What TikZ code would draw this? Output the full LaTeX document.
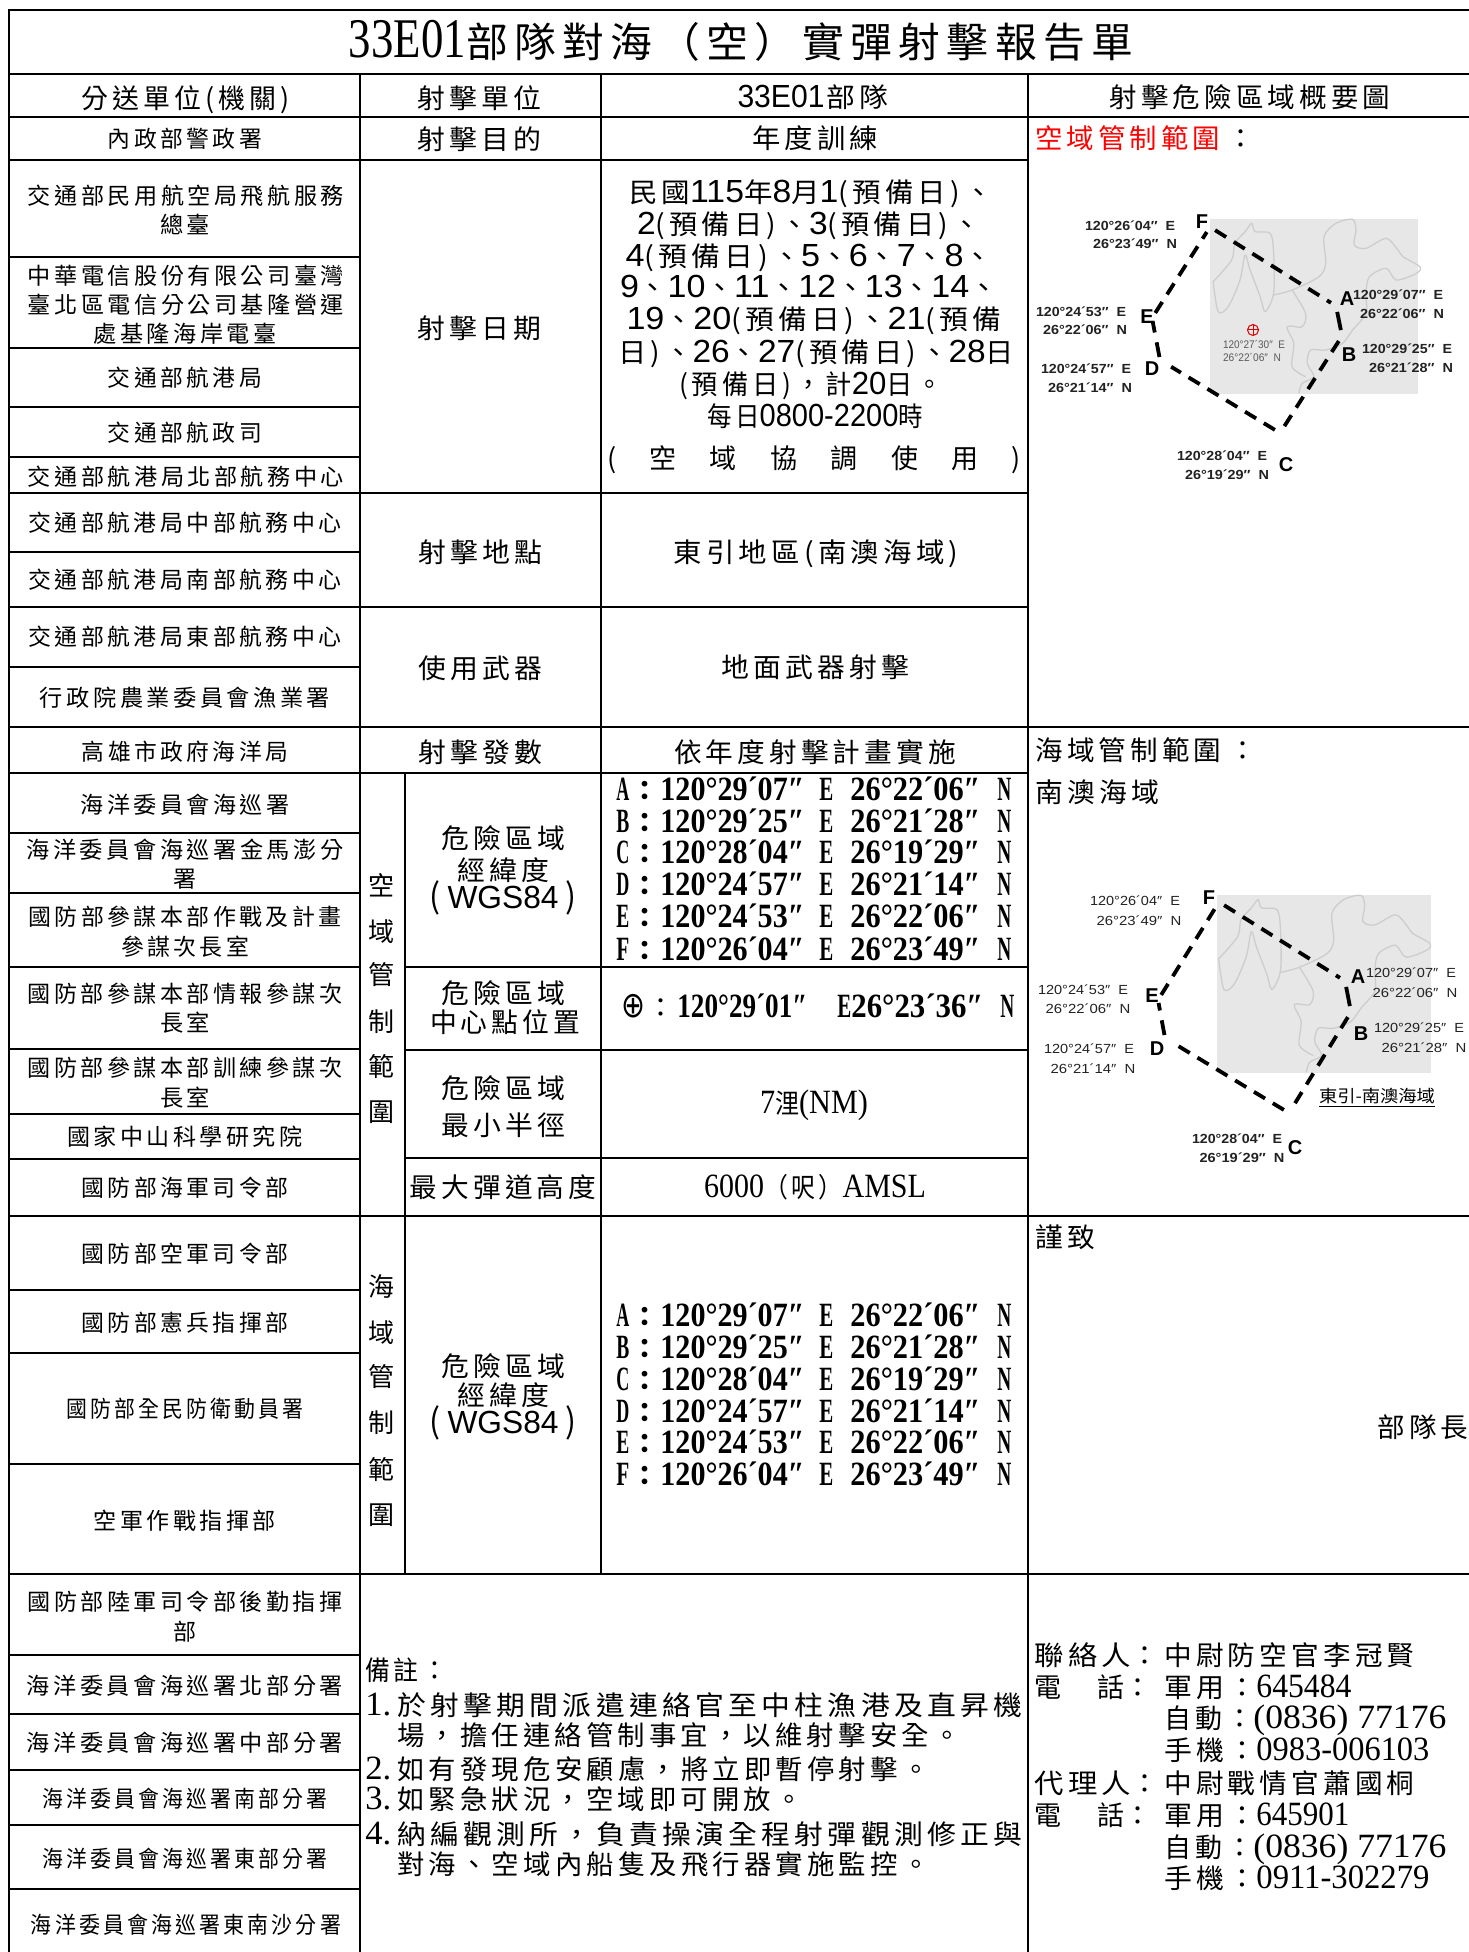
\documentclass[tikz,border=0pt]{standalone}
\usepackage{fontspec}
\usepackage{graphicx}
\setmainfont{Noto Sans CJK TC}
\newfontfamily\cj[LetterSpace=15]{Noto Sans CJK TC}
\newfontfamily\cjn{Noto Sans CJK TC}
\newfontfamily\lsans{Liberation Sans}
\newfontfamily\lserif{Liberation Serif}
\newfontfamily\dejav{DejaVu Sans}
\newdimen\pxu \pxu=.5pt
\newcommand\fw[2]{\resizebox{#1\pxu}{\height}{#2}}
\newcommand\lse{\lserif\fontsize{17}{19}\selectfont}
\newcommand\sa[1]{{\lsans\fontsize{16}{18}\selectfont #1}}
\newcommand\se[1]{{\lse #1}}
\newcommand\coordln[3]{\hbox{\lse\bfseries\fw{13}{#1}\kern2\pxu{\cjn\fontsize{13.5}{16}\selectfont ：}\kern2\pxu\fw{144}{#2}\kern15\pxu\fw{14}{E}\kern17\pxu\fw{130}{#3}\kern17\pxu\fw{14}{N}}}
\newcommand\wgs{\hbox{\fw{11}{\cjn\fontsize{17}{19}\selectfont(}\kern7\pxu\fw{111}{\lsans\fontsize{16}{18}\selectfont WGS84}\kern7\pxu\fw{11}{\cjn\fontsize{17}{19}\selectfont)}}}
\newcommand\telrow{\hbox{電\kern36\pxu 話\kern0\pxu{\cjn ：}}}
\definecolor{mapgrey}{HTML}{E7E7E7}
\definecolor{coast}{HTML}{CDCDCD}
\definecolor{mtext}{HTML}{222222}
\tikzset{
  every node/.style={inner sep=0pt},
  rule/.style={line width=1.1pt,line cap=rect},
  lc/.style={anchor=base,yshift=-4.4pt,font=\cj\fontsize{11.5}{13}\selectfont},
  mc/.style={anchor=base,yshift=-5.1pt,font=\cj\fontsize{13.5}{16}\selectfont},
  mw/.style={mc,anchor=base west},
  vc/.style={anchor=base,yshift=-4.9pt,font=\cjn\fontsize{13}{15}\selectfont},
  ml/.style={anchor=center,text=mtext,font=\lsans\bfseries\fontsize{6.6}{8}\selectfont},
  mr/.style={anchor=center,text=mtext,font=\lsans\fontsize{6.6}{8}\selectfont},
  mlb/.style={anchor=center,text=black,font=\lsans\bfseries\fontsize{10}{12}\selectfont},
  mlg/.style={anchor=center,text=black!65,font=\lsans\fontsize{5.5}{7}\selectfont},
  dashpoly/.style={line width=1.9pt,dash pattern=on 6.5pt off 4.5pt,shorten >=3pt,shorten <=3pt},
  dashsolid/.style={line width=1.9pt,shorten >=3pt,shorten <=3pt},
  dashtwo/.style={line width=1.9pt,dash pattern=on 7.5pt off 5pt,shorten >=1.5pt,shorten <=1.5pt},
  coastline/.style={draw=coast,line width=.65pt,line join=round},
}
\newcommand\coastlines{
  \draw[coastline] plot[smooth] coordinates {(545,485)(600,420)(610,370)(640,335)(660,310)(670,335)(715,340)(725,400)(725,520)(700,575)(685,530)(655,450)(640,405)(625,480)(590,560)(560,575)(545,485)};
  \draw[coastline] plot[smooth] coordinates {(725,525)(780,510)(860,470)(880,430)(875,350)(910,310)(960,298)(970,330)(965,375)(1000,385)(1060,355)(1095,390)(1110,410)(1160,440)(1150,460)(1090,480)(1060,445)(1010,470)(1000,520)(1000,580)(960,630)(930,670)(880,690)(835,690)(825,730)(845,770)(810,790)(800,820)};
  \draw[coastline] plot[smooth] coordinates {(780,510)(820,580)(810,620)(765,620)(785,670)(780,740)(820,770)};
}
\begin{document}
\begin{tikzpicture}[x=.5pt,y=-.5pt]
\useasboundingbox (0,0) rectangle (1468,1952);
\fill[white] (0,0) rectangle (1468,1952);

% ---------- map 1
\fill[mapgrey] (1210,219) rectangle (1418,394);
\begin{scope}[x=.168pt,y=-.1667pt,shift={(515pt,-60pt)}]\coastlines\end{scope}
\coordinate (fa) at (1210,227);
\coordinate (aa) at (1336,306);
\coordinate (ba) at (1342,336);
\coordinate (ca) at (1280,433);
\coordinate (da) at (1160,360);
\coordinate (ea) at (1152,318);
\draw[dashpoly] (fa)--(aa);
\draw[dashsolid] (aa)--(ba);
\draw[dashpoly] (ba)--(ca);
\draw[dashpoly,shorten >=6.5pt] (ca)--(da);
\draw[dashtwo] (da)--(ea);
\draw[dashpoly] (ea)--(fa);
\node[mlb] (f1) at (1202,222) {F};
\node[mlb] (a1) at (1347,299) {A};
\node[mlb] (b1) at (1349,355) {B};
\node[mlb] (c1) at (1286,465) {C};
\node[mlb] (d1) at (1152,369) {D};
\node[mlb] (e1) at (1147,317) {E};
\node[ml] (f1x) at (1130,226) {\fw{90}{120°26´04″\ \ E}};
\node[ml] (f1y) at (1135,244) {\fw{84}{26°23´49″\ \ N}};
\node[ml] (a1x) at (1398,295) {\fw{90}{120°29´07″\ \ E}};
\node[ml] (a1y) at (1402,314) {\fw{84}{26°22´06″\ \ N}};
\node[ml] (e1x) at (1081,312) {\fw{90}{120°24´53″\ \ E}};
\node[ml] (e1y) at (1085,330) {\fw{84}{26°22´06″\ \ N}};
\node[ml] (d1x) at (1086,369) {\fw{90}{120°24´57″\ \ E}};
\node[ml] (d1y) at (1090,388) {\fw{84}{26°21´14″\ \ N}};
\node[ml] (b1x) at (1407,349) {\fw{90}{120°29´25″\ \ E}};
\node[ml] (b1y) at (1411,368) {\fw{84}{26°21´28″\ \ N}};
\node[ml] (c1x) at (1222,456) {\fw{90}{120°28´04″\ \ E}};
\node[ml] (c1y) at (1227,475) {\fw{84}{26°19´29″\ \ N}};
\coordinate (ctr) at (1253,330);
\draw[red!85!black,line width=.5pt] (ctr) circle (5.5);
\draw[red!85!black,line width=.5pt] ([xshift=-2.75pt]ctr)--([xshift=2.75pt]ctr) ([yshift=-2.75pt]ctr)--([yshift=2.75pt]ctr);
\node[mlg] (cx) at (1254,345) {\fw{62}{120°27´30″\ \ E}};
\node[mlg] (cy) at (1252,358) {\fw{58}{26°22´06″\ \ N}};

% ---------- map 2
\fill[mapgrey] (1217,895) rectangle (1431,1073);
\begin{scope}[x=.1717pt,y=-.1695pt,shift={(515.75pt,-397.2pt)}]\coastlines\end{scope}
\coordinate (fb) at (1219,902);
\coordinate (ab) at (1345,981);
\coordinate (bb) at (1351,1012);
\coordinate (cb) at (1289,1113);
\coordinate (db) at (1165,1038);
\coordinate (eb) at (1158,1000);
\draw[dashpoly] (fb)--(ab);
\draw[dashsolid] (ab)--(bb);
\draw[dashpoly] (bb)--(cb);
\draw[dashpoly,shorten >=7pt] (cb)--(db);
\draw[dashtwo] (db)--(eb);
\draw[dashpoly] (eb)--(fb);
\node[mlb] (f2) at (1209,898) {F};
\node[mlb] (a2) at (1358,977) {A};
\node[mlb] (b2) at (1361,1034) {B};
\node[mlb] (c2) at (1295,1148) {C};
\node[mlb] (d2) at (1157,1049) {D};
\node[mlb] (e2) at (1152,996) {E};
\node[mr] (f2x) at (1135,901) {\fw{90}{120°26´04″\ \ E}};
\node[mr] (f2y) at (1139,921) {\fw{85}{26°23´49″\ \ N}};
\node[mr] (a2x) at (1411,973) {\fw{90}{120°29´07″\ \ E}};
\node[mr] (a2y) at (1415,993) {\fw{85}{26°22´06″\ \ N}};
\node[mr] (e2x) at (1083,990) {\fw{90}{120°24´53″\ \ E}};
\node[mr] (e2y) at (1088,1009) {\fw{85}{26°22´06″\ \ N}};
\node[mr] (d2x) at (1089,1049) {\fw{90}{120°24´57″\ \ E}};
\node[mr] (d2y) at (1093,1069) {\fw{85}{26°21´14″\ \ N}};
\node[mr] (b2x) at (1419,1028) {\fw{90}{120°29´25″\ \ E}};
\node[mr] (b2y) at (1424,1048) {\fw{85}{26°21´28″\ \ N}};
\node[ml] (c2x) at (1237,1139) {\fw{90}{120°28´04″\ \ E}};
\node[ml] (c2y) at (1242,1158) {\fw{85}{26°19´29″\ \ N}};
\node[anchor=center,font=\cjn\fontsize{8.5}{10}\selectfont] (m2cap) at (1377,1098) {\underline{\fw{116}{東引-南澳海域}}};

% ---------- table rules
\foreach \yy in {10,74,727,1216,1574} \draw[rule] (9,\yy)--(1468,\yy);
\draw[rule] (9,117)--(1468,117);
\foreach \yy in {160,493,607,773} \draw[rule] (9,\yy)--(1028,\yy);
\foreach \yy in {257,348,407,457,552,667,833,893,967,1049,1114,1159,1290,1353,1464,1655,1714,1770,1825,1889} \draw[rule] (9,\yy)--(360,\yy);
\foreach \yy in {967,1050,1158} \draw[rule] (405,\yy)--(1028,\yy);
\draw[rule] (9,10)--(9,1952);
\draw[rule] (360,74)--(360,1952);
\draw[rule] (1028,74)--(1028,1952);
\draw[rule] (601,74)--(601,1574);
\draw[rule] (405,773)--(405,1574);

% ---------- title and header row
\node[anchor=base,yshift=-7.8pt,font=\cj\fontsize{20.5}{24}\selectfont] (title) at (741,42) {\hbox{\fw{117}{\lserif\fontsize{28}{30}\selectfont 33E01}\fw{667}{部隊對海（空）實彈射擊報告單}}};
\node[mc] (h1) at (186,98) {\fw{208}{分送單位(機關)}};
\node[mc] (h2) at (479,98) {\fw{124}{射擊單位}};
\node[mc] (h3) at (813,97) {\hbox{\fw{87}{\lsans\fontsize{16}{18}\selectfont 33E01}\kern2\pxu\fw{62}{部隊}}};
\node[mc] (h4) at (1250,97) {\fw{281}{射擊危險區域概要圖}};

% ---------- left column
\node[lc] (l01) at (185,139) {\fw{154}{內政部警政署}};
\node[lc] (l02) at (186,196) {\fw{316}{交通部民用航空局飛航服務}};
\node[lc] (l03) at (185,225) {\fw{50}{總臺}};
\node[lc] (l04) at (186,276) {\fw{316}{中華電信股份有限公司臺灣}};
\node[lc] (l05) at (186,305) {\fw{316}{臺北區電信分公司基隆營運}};
\node[lc] (l06) at (185,334) {\fw{183}{處基隆海岸電臺}};
\node[lc] (l07) at (185,378) {\fw{154}{交通部航港局}};
\node[lc] (l08) at (185,433) {\fw{154}{交通部航政司}};
\node[lc] (l09) at (186,477) {\fw{316}{交通部航港局北部航務中心}};
\node[lc] (l10) at (185,523) {\fw{313}{交通部航港局中部航務中心}};
\node[lc] (l11) at (185,580) {\fw{313}{交通部航港局南部航務中心}};
\node[lc] (l12) at (185,637) {\fw{313}{交通部航港局東部航務中心}};
\node[lc] (l13) at (185,698) {\fw{290}{行政院農業委員會漁業署}};
\node[lc] (l14) at (185,752) {\fw{206}{高雄市政府海洋局}};
\node[lc] (l15) at (185,805) {\fw{209}{海洋委員會海巡署}};
\node[lc] (l16) at (185,850) {\fw{317}{海洋委員會海巡署金馬澎分}};
\node[lc] (l17) at (185,879) {署};
\node[lc] (l18) at (185,917) {\fw{313}{國防部參謀本部作戰及計畫}};
\node[lc] (l19) at (185,947) {\fw{128}{參謀次長室}};
\node[lc] (l20) at (185,994) {\fw{315}{國防部參謀本部情報參謀次}};
\node[lc] (l21) at (185,1023) {\fw{50}{長室}};
\node[lc] (l22) at (185,1068) {\fw{315}{國防部參謀本部訓練參謀次}};
\node[lc] (l23) at (185,1098) {\fw{50}{長室}};
\node[lc] (l24) at (185,1137) {\fw{235}{國家中山科學研究院}};
\node[lc] (l25) at (185,1188) {\fw{207}{國防部海軍司令部}};
\node[lc] (l26) at (185,1254) {\fw{207}{國防部空軍司令部}};
\node[lc] (l27) at (185,1323) {\fw{207}{國防部憲兵指揮部}};
\node[lc] (l28) at (185,1409) {\fw{237}{國防部全民防衛動員署}};
\node[lc] (l29) at (185,1521) {\fw{182}{空軍作戰指揮部}};
\node[lc] (l30) at (185,1602) {\fw{315}{國防部陸軍司令部後勤指揮}};
\node[lc] (l31) at (185,1632) {部};
\node[lc] (l32) at (185,1686) {\fw{316}{海洋委員會海巡署北部分署}};
\node[lc] (l33) at (185,1743) {\fw{316}{海洋委員會海巡署中部分署}};
\node[lc] (l34) at (185,1799) {\fw{285}{海洋委員會海巡署南部分署}};
\node[lc] (l35) at (185,1859) {\fw{285}{海洋委員會海巡署東部分署}};
\node[lc] (l36) at (186,1925) {\fw{310}{海洋委員會海巡署東南沙分署}};

% ---------- second column
\node[mc] (m1) at (479,139) {\fw{124}{射擊目的}};
\node[mc] (m2) at (479,328) {\fw{124}{射擊日期}};
\node[mc] (m3) at (480,552) {\fw{124}{射擊地點}};
\node[mc] (m4) at (480,668) {\fw{124}{使用武器}};
\node[mc] (m5) at (480,752) {\fw{124}{射擊發數}};

% vertical labels
\node[vc] (v1) at (381,886) {空};
\node[vc] (v2) at (381,932) {域};
\node[vc] (v3) at (381,975) {管};
\node[vc] (v4) at (381,1022) {制};
\node[vc] (v5) at (381,1067) {範};
\node[vc] (v6) at (381,1112) {圍};
\node[vc] (w1) at (381,1287) {海};
\node[vc] (w2) at (381,1333) {域};
\node[vc] (w3) at (381,1377) {管};
\node[vc] (w4) at (381,1423) {制};
\node[vc] (w5) at (381,1470) {範};
\node[vc] (w6) at (381,1515) {圍};

% sub column
\node[mc] (s1) at (503,838) {\fw{124}{危險區域}};
\node[mc] (s2) at (503,870) {\fw{92}{經緯度}};
\node[mc] (s3) at (503,898) {\wgs};
\node[mc] (s4) at (503,993) {\fw{124}{危險區域}};
\node[mc] (s5) at (505,1022) {\fw{150}{中心點位置}};
\node[mc] (s6) at (503,1088) {\fw{124}{危險區域}};
\node[mc] (s7) at (503,1125) {\fw{124}{最小半徑}};
\node[mc] (s8) at (503,1187) {\fw{187}{最大彈道高度}};
\node[mc] (s9) at (503,1366) {\fw{124}{危險區域}};
\node[mc] (s10) at (503,1395) {\fw{92}{經緯度}};
\node[mc] (s11) at (503,1423) {\wgs};

% ---------- third column
\node[mc] (c1t) at (815,138) {\fw{126}{年度訓練}};
\node[mc] (d1t) at (811,192) {\fw{364}{民國\sa{115}年\sa{8}月\sa{1}(預備日)、}};
\node[mc] (d2t) at (809,224) {\fw{344}{\sa{2}(預備日)、\sa{3}(預備日)、}};
\node[mc] (d3t) at (809,256) {\fw{367}{\sa{4}(預備日)、\sa{5}、\sa{6}、\sa{7}、\sa{8}、}};
\node[mc] (d4t) at (809,287) {\fw{378}{\sa{9}、\sa{10}、\sa{11}、\sa{12}、\sa{13}、\sa{14}、}};
\node[mc] (d5t) at (814,319) {\fw{375}{\sa{19}、\sa{20}(預備日)、\sa{21}(預備}};
\node[mc] (d6t) at (816,352) {\fw{396}{日)、\sa{26}、\sa{27}(預備日)、\sa{28}日}};
\node[mc] (d7t) at (811,384) {\fw{264}{(預備日)，計\sa{20}日。}};
\node[mc] (d8t) at (815,416) {\fw{216}{每日\sa{0800-2200}時}};
\node[mc] (d9t) at (814,458) {\makebox[414\pxu][s]{(\hfil 空\hfil 域\hfil 協\hfil 調\hfil 使\hfil 用\hfil )}};
\node[mc] (c3t) at (816,552) {\fw{285}{東引地區(南澳海域)}};
\node[mc] (c4t) at (815,667) {\fw{188}{地面武器射擊}};
\node[mc] (c5t) at (815,752) {\fw{282}{依年度射擊計畫實施}};
\node[mw] (k1) at (616,790) {\coordln{A}{120°29´07″}{26°22´06″}};
\node[mw] (k2) at (616,822) {\coordln{B}{120°29´25″}{26°21´28″}};
\node[mw] (k3) at (616,853) {\coordln{C}{120°28´04″}{26°19´29″}};
\node[mw] (k4) at (616,885) {\coordln{D}{120°24´57″}{26°21´14″}};
\node[mw] (k5) at (616,917) {\coordln{E}{120°24´53″}{26°22´06″}};
\node[mw] (k6) at (616,950) {\coordln{F}{120°26´04″}{26°23´49″}};
\node[mw] (q1) at (621,1007) {\hbox{{\dejav\fontsize{18}{20}\selectfont\fw{24}{⊕}}\kern2\pxu{\cjn ：}\kern3\pxu\lse\bfseries\fw{130}{120°29´01″}\kern30\pxu\fw{14}{E}\fw{132}{26°23´36″}\kern17\pxu\fw{14}{N}}};
\node[mc] (q2) at (814,1103) {\fw{108}{\se{7}浬\se{(NM)}}};
\node[mc] (q3) at (815,1187) {\fw{222}{\se{6000}（呎）\se{AMSL}}};
\node[mw] (n1) at (616,1316) {\coordln{A}{120°29´07″}{26°22´06″}};
\node[mw] (n2) at (616,1348) {\coordln{B}{120°29´25″}{26°21´28″}};
\node[mw] (n3) at (616,1380) {\coordln{C}{120°28´04″}{26°19´29″}};
\node[mw] (n4) at (616,1412) {\coordln{D}{120°24´57″}{26°21´14″}};
\node[mw] (n5) at (616,1443) {\coordln{E}{120°24´53″}{26°22´06″}};
\node[mw] (n6) at (616,1475) {\coordln{F}{120°26´04″}{26°23´49″}};

% ---------- right column
\node[mw,text=red] (r1) at (1035,138) {\fw{185}{空域管制範圍}};
\node[mc] (r1c) at (1241,138) {\cjn ：};
\node[mw] (r2) at (1035,750) {\fw{186}{海域管制範圍}};
\node[mc] (r2c) at (1243,750) {\cjn ：};
\node[mw] (r3) at (1035,792) {\fw{124}{南澳海域}};
\node[mw] (r4) at (1035,1237) {\fw{60}{謹致}};
\node[mw] (r5) at (1377,1427) {\fw{91}{部隊長}};

% ---------- notes
\node[mw] (t0) at (365,1670) {\fw{82}{備註：}};
\node[mw] (t1a) at (365,1705) {\fw{26}{\se{1.}}};
\node[mw] (t1) at (397,1705) {\fw{625}{於射擊期間派遣連絡官至中柱漁港及直昇機}};
\node[mw] (t2) at (397,1735) {\fw{563}{場，擔任連絡管制事宜，以維射擊安全。}};
\node[mw] (t3a) at (365,1769) {\fw{26}{\se{2.}}};
\node[mw] (t3) at (397,1769) {\fw{532}{如有發現危安顧慮，將立即暫停射擊。}};
\node[mw] (t4a) at (365,1799) {\fw{26}{\se{3.}}};
\node[mw] (t4) at (397,1799) {\fw{405}{如緊急狀況，空域即可開放。}};
\node[mw] (t5a) at (365,1834) {\fw{26}{\se{4.}}};
\node[mw] (t5) at (397,1834) {\fw{625}{納編觀測所，負責操演全程射彈觀測修正與}};
\node[mw] (t6) at (397,1864) {\fw{532}{對海、空域內船隻及飛行器實施監控。}};

% ---------- contacts
\node[mw] (u1) at (1034,1655) {\hbox{\fw{97}{聯絡人}{\cjn ：}}};
\node[mw] (u2) at (1164,1655) {\fw{250}{中尉防空官李冠賢}};
\node[mw] (u3) at (1034,1687) {\telrow};
\node[mw] (u4) at (1164,1687) {\hbox{\fw{92}{軍用：}\fw{95}{\se{645484}}}};
\node[mw] (u5) at (1164,1718) {\hbox{\fw{89}{自動：}\fw{193}{\se{(0836) 77176}}}};
\node[mw] (u6) at (1164,1750) {\hbox{\fw{92}{手機：}\fw{173}{\se{0983-006103}}}};
\node[mw] (u7) at (1034,1783) {\hbox{\fw{97}{代理人}{\cjn ：}}};
\node[mw] (u8) at (1164,1783) {\fw{250}{中尉戰情官蕭國桐}};
\node[mw] (u9) at (1034,1815) {\telrow};
\node[mw] (u10) at (1164,1815) {\hbox{\fw{92}{軍用：}\fw{93}{\se{645901}}}};
\node[mw] (u11) at (1164,1847) {\hbox{\fw{89}{自動：}\fw{193}{\se{(0836) 77176}}}};
\node[mw] (u12) at (1164,1878) {\hbox{\fw{92}{手機：}\fw{173}{\se{0911-302279}}}};
\end{tikzpicture}
\end{document}
